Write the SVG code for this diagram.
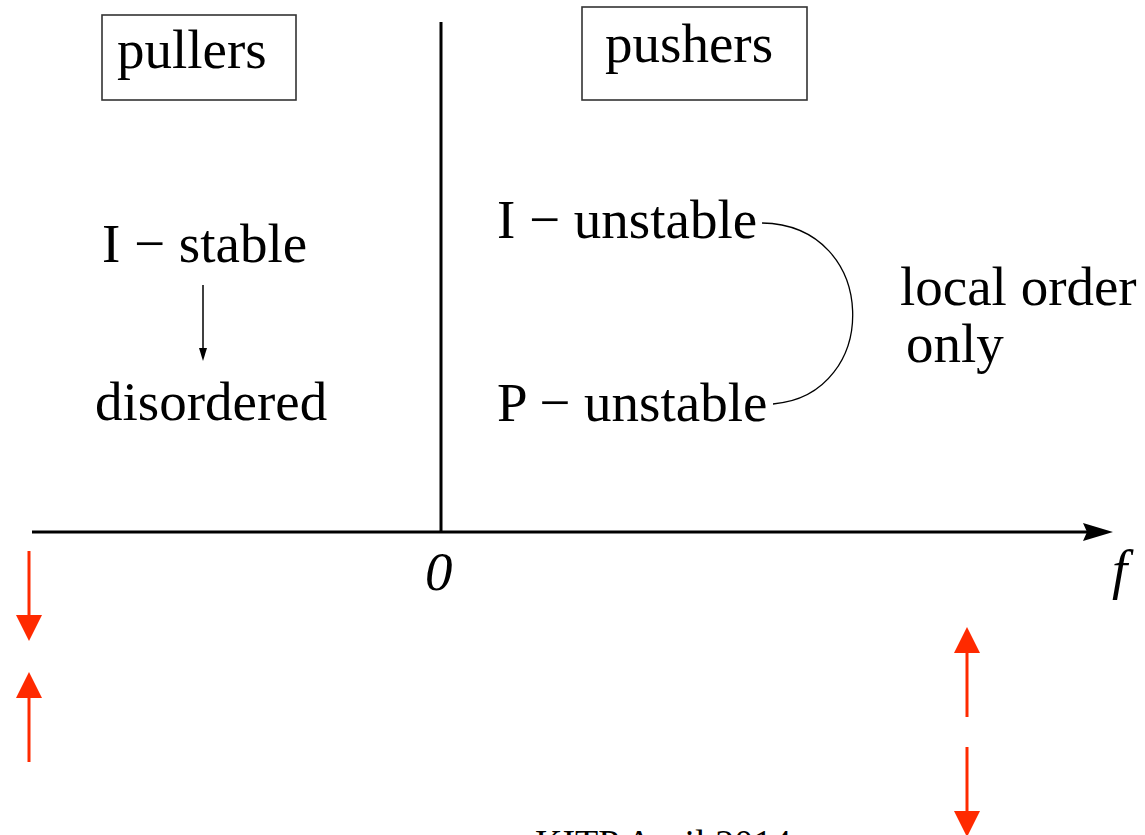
<svg xmlns="http://www.w3.org/2000/svg" width="1145" height="835" viewBox="0 0 1145 835">
<style>
.t{font-family:"Liberation Serif","Times New Roman",serif;font-size:55px;fill:#000}
.it{font-style:italic}
.box{fill:none;stroke:#333;stroke-width:1.6}
.red{stroke:#ff2a00;stroke-width:3;fill:none}
.redh{fill:#ff2a00}
</style>
<rect width="1145" height="835" fill="#fff"/>
<g id="pullers">
<rect class="box" x="102" y="15" width="194" height="85"/>
<text class="t" x="117" y="68">pullers</text>
</g>
<g id="pushers">
<rect class="box" x="582" y="7" width="225" height="93"/>
<text class="t" x="605" y="62">pushers</text>
</g>
<g id="i-stable"><text class="t" x="102" y="262">I − stable</text></g>
<g id="disordered"><text class="t" x="95" y="420">disordered</text></g>
<g id="i-unstable"><text class="t" x="497" y="238">I − unstable</text></g>
<g id="p-unstable"><text class="t" x="497" y="421">P − unstable</text></g>
<g id="local-order"><text class="t" x="900" y="305">local order</text><text class="t" x="906" y="362">only</text></g>
<g id="axes">
<line x1="441" y1="22" x2="441" y2="532" stroke="#000" stroke-width="3"/>
<line x1="32" y1="532" x2="1090" y2="532" stroke="#000" stroke-width="3"/>
<path d="M1083,523 L1113,532 L1083,541 L1087,532 Z" fill="#000"/>
<text class="t it" x="425" y="590">0</text>
<text class="t it" x="1112" y="588">f</text>
</g>
<g id="connectors">
<line x1="203" y1="285" x2="203" y2="350" stroke="#000" stroke-width="1.5"/>
<path d="M199,348 L207,348 L203,361 Z" fill="#000"/>
<path d="M762,223 C880,225 882,395 773,404" fill="none" stroke="#000" stroke-width="1.3"/>
</g>
<g id="red-arrows">
<line class="red" x1="29" y1="551" x2="29" y2="618"/>
<path class="redh" d="M16,615 L42,615 L29,641 Z"/>
<line class="red" x1="29" y1="695" x2="29" y2="762"/>
<path class="redh" d="M16,698 L42,698 L29,672 Z"/>
<line class="red" x1="967" y1="650" x2="967" y2="717"/>
<path class="redh" d="M954,653 L980,653 L967,627 Z"/>
<line class="red" x1="967" y1="747" x2="967" y2="814"/>
<path class="redh" d="M954,811 L980,811 L967,837 Z"/>
</g>
<g id="footer"><text class="t" x="535" y="856" style="font-size:38px">KITP April 2014</text></g>
</svg>
